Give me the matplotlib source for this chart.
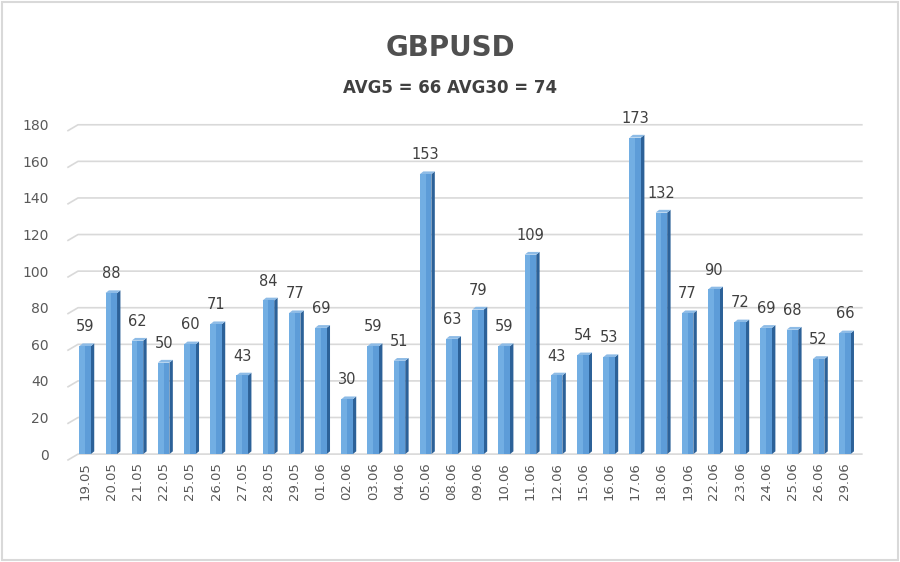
import matplotlib.pyplot as plt
from matplotlib.patches import Rectangle, Polygon

dates = ["19.05", "20.05", "21.05", "22.05", "25.05", "26.05", "27.05", "28.05", "29.05",
         "01.06", "02.06", "03.06", "04.06", "05.06", "08.06", "09.06", "10.06", "11.06",
         "12.06", "15.06", "16.06", "17.06", "18.06", "19.06", "22.06", "23.06", "24.06",
         "25.06", "26.06", "29.06"]
values = [59, 88, 62, 50, 60, 71, 43, 84, 77, 69, 30, 59, 51, 153, 63, 79, 59, 109,
          43, 54, 53, 173, 132, 77, 90, 72, 69, 68, 52, 66]
yticks = [0, 20, 40, 60, 80, 100, 120, 140, 160, 180]

fig = plt.figure(figsize=(9, 5.62), dpi=100)
ax = fig.add_axes([0.0756, 0.192, 0.882, 0.586])

x = list(range(len(values)))
w = 0.44
depth = 0.13
dy = 1.5

# gridlines with a small slanted start (3d floor look)
for t in yticks:
    ax.plot([-0.65, -0.27, 29.65], [t - 3.2, t, t], color="#d9d9d9", lw=1.2,
            zorder=0, clip_on=False)

# bar sides and tops (3d look)
for xi, v in zip(x, values):
    side = Polygon([(xi + w / 2, 0), (xi + w / 2 + depth, dy), (xi + w / 2 + depth, v + dy),
                    (xi + w / 2, v)], closed=True, facecolor="#2c6198", edgecolor="none", zorder=2)
    ax.add_patch(side)
    top = Polygon([(xi - w / 2, v), (xi - w / 2 + depth, v + dy), (xi + w / 2 + depth, v + dy),
                   (xi + w / 2, v)], closed=True, facecolor="#8dbbe6", edgecolor="none", zorder=2)
    ax.add_patch(top)

ax.bar(x, values, width=w, color="#5d9cd8", edgecolor="none", zorder=3)
# lighter strip on the left of each bar face
ax.bar([xi - w / 4 for xi in x], values, width=w / 2, color="#72aee3", edgecolor="none", zorder=3)

for xi, v in zip(x, values):
    ax.text(xi, v + 6.5, str(v), ha="center", va="bottom", fontsize=10.5, color="#404040")

ax.set_xlim(-0.65, 29.65)
ax.set_ylim(0, 180)
ax.set_yticks(yticks)
ax.set_xticks(x)
ax.set_xticklabels(dates, rotation=90, fontsize=9.5, color="#595959")
ax.tick_params(axis="y", labelsize=10, labelcolor="#595959", length=0, pad=14)
ax.tick_params(axis="x", length=0, pad=6)
for s in ax.spines.values():
    s.set_visible(False)

fig.text(0.5, 0.915, "GBPUSD", ha="center", va="center", fontsize=20, fontweight="bold", color="#505050")
fig.text(0.5, 0.843, "AVG5 = 66 AVG30 = 74", ha="center", va="center", fontsize=12, fontweight="bold", color="#404040")

fig.patches.append(Rectangle((0.002, 0.003), 0.996, 0.994, transform=fig.transFigure,
                             fill=False, edgecolor="#d9d9d9", lw=1.5))

fig.savefig("out.png", dpi=100)
